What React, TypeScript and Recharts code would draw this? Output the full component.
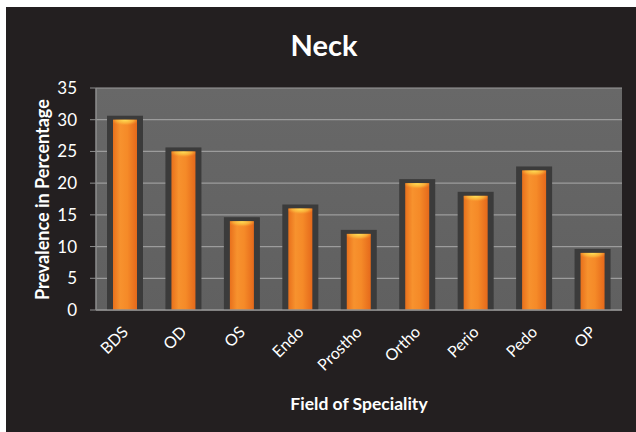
import { Bar, BarChart, CartesianGrid, XAxis, YAxis } from 'recharts';

const CATEGORIES = ['BDS', 'OD', 'OS', 'Endo', 'Prostho', 'Ortho', 'Perio', 'Pedo', 'OP'];
const PREVALENCE = [30, 25, 14, 16, 12, 20, 18, 22, 9];
const Y_TICKS = [0, 5, 10, 15, 20, 25, 30, 35];

const FONT = 'Lato, "Open Sans", sans-serif';
const TEXT = '#ffffff';

const chartData = CATEGORIES.map((name, index) => ({ name, value: PREVALENCE[index] }));

const GlossyBar = (props: any) => {
  const { x, y, width, height } = props;
  if (!height || height <= 0) return null;
  return (
    <g>
      <rect x={x - 6} y={y - 4} width={width + 12} height={height + 4} fill="#3b3b3b" />
      <rect x={x} y={y} width={width} height={height} fill="url(#barBody)" />
      <rect x={x} y={y} width={width} height={Math.min(10, height)} fill="url(#barTop)" />
    </g>
  );
};

const SlantedTick = (props: any) => {
  const { x, y, payload } = props;
  return (
    <text
      x={x + 4}
      y={y + 15}
      transform={`rotate(-45 ${x + 4} ${y + 15})`}
      textAnchor="end"
      fill={TEXT}
      fontSize={16}
      fontFamily={FONT}
    >
      {payload.value}
    </text>
  );
};

export default function App() {
  return (
    <div style={{ position: 'fixed', left: 0, top: 0, width: 636, height: 432, background: '#ffffff' }}>
      <div style={{ position: 'absolute', left: 6, top: 7, right: 0, bottom: 0, background: '#231f20' }} />
      <div style={{ position: 'absolute', left: 0, top: 0 }}>
        <BarChart
          width={636}
          height={432}
          data={chartData}
          margin={{ top: 88, right: 14, left: 0, bottom: 0 }}
          barCategoryGap={0}
        >
          <defs>
            <linearGradient id="plotBg" x1="0" y1="0" x2="0" y2="1">
              <stop offset="0%" stopColor="#686868" />
              <stop offset="100%" stopColor="#606060" />
            </linearGradient>
            <linearGradient id="barBody" x1="0" y1="0" x2="1" y2="0">
              <stop offset="0%" stopColor="#e8701c" />
              <stop offset="30%" stopColor="#f7922e" />
              <stop offset="60%" stopColor="#f58a28" />
              <stop offset="100%" stopColor="#e5691b" />
            </linearGradient>
            <radialGradient id="barTop" cx="0.5" cy="0" r="0.6">
              <stop offset="0%" stopColor="#ffe45a" />
              <stop offset="60%" stopColor="#fbb73c" stopOpacity={0.8} />
              <stop offset="100%" stopColor="#f7922e" stopOpacity={0} />
            </radialGradient>
          </defs>
          <text x={324} y={56} textAnchor="middle" fill={TEXT} fontSize={29} fontWeight="bold" fontFamily={FONT}>
            Neck
          </text>
          <CartesianGrid vertical={false} stroke="#9c9c9c" strokeWidth={1.2} fill="url(#plotBg)" fillOpacity={1} />
          <XAxis
            dataKey="name"
            height={122}
            interval={0}
            tick={<SlantedTick />}
            tickLine={false}
            axisLine={{ stroke: '#8e8e8e', strokeWidth: 1.5 }}
            label={{
              value: 'Field of Speciality',
              position: 'insideBottom',
              offset: 22,
              fill: TEXT,
              fontSize: 17.5,
              fontWeight: 'bold',
              fontFamily: FONT,
            }}
          />
          <YAxis
            width={96}
            domain={[0, 35]}
            ticks={Y_TICKS}
            interval={0}
            tickSize={6}
            tickMargin={13}
            tick={{ fill: TEXT, fontSize: 17, fontFamily: FONT }}
            tickLine={{ stroke: '#8e8e8e' }}
            axisLine={{ stroke: '#8e8e8e', strokeWidth: 1.5 }}
            label={{
              value: 'Prevalence in Percentage',
              angle: -90,
              position: 'insideLeft',
              offset: 43,
              dy: 101,
              fill: TEXT,
              fontSize: 18,
              fontWeight: 'bold',
              fontFamily: FONT,
            }}
          />
          <Bar dataKey="value" barSize={24} shape={<GlossyBar />} isAnimationActive={false} />
        </BarChart>
      </div>
    </div>
  );
}
